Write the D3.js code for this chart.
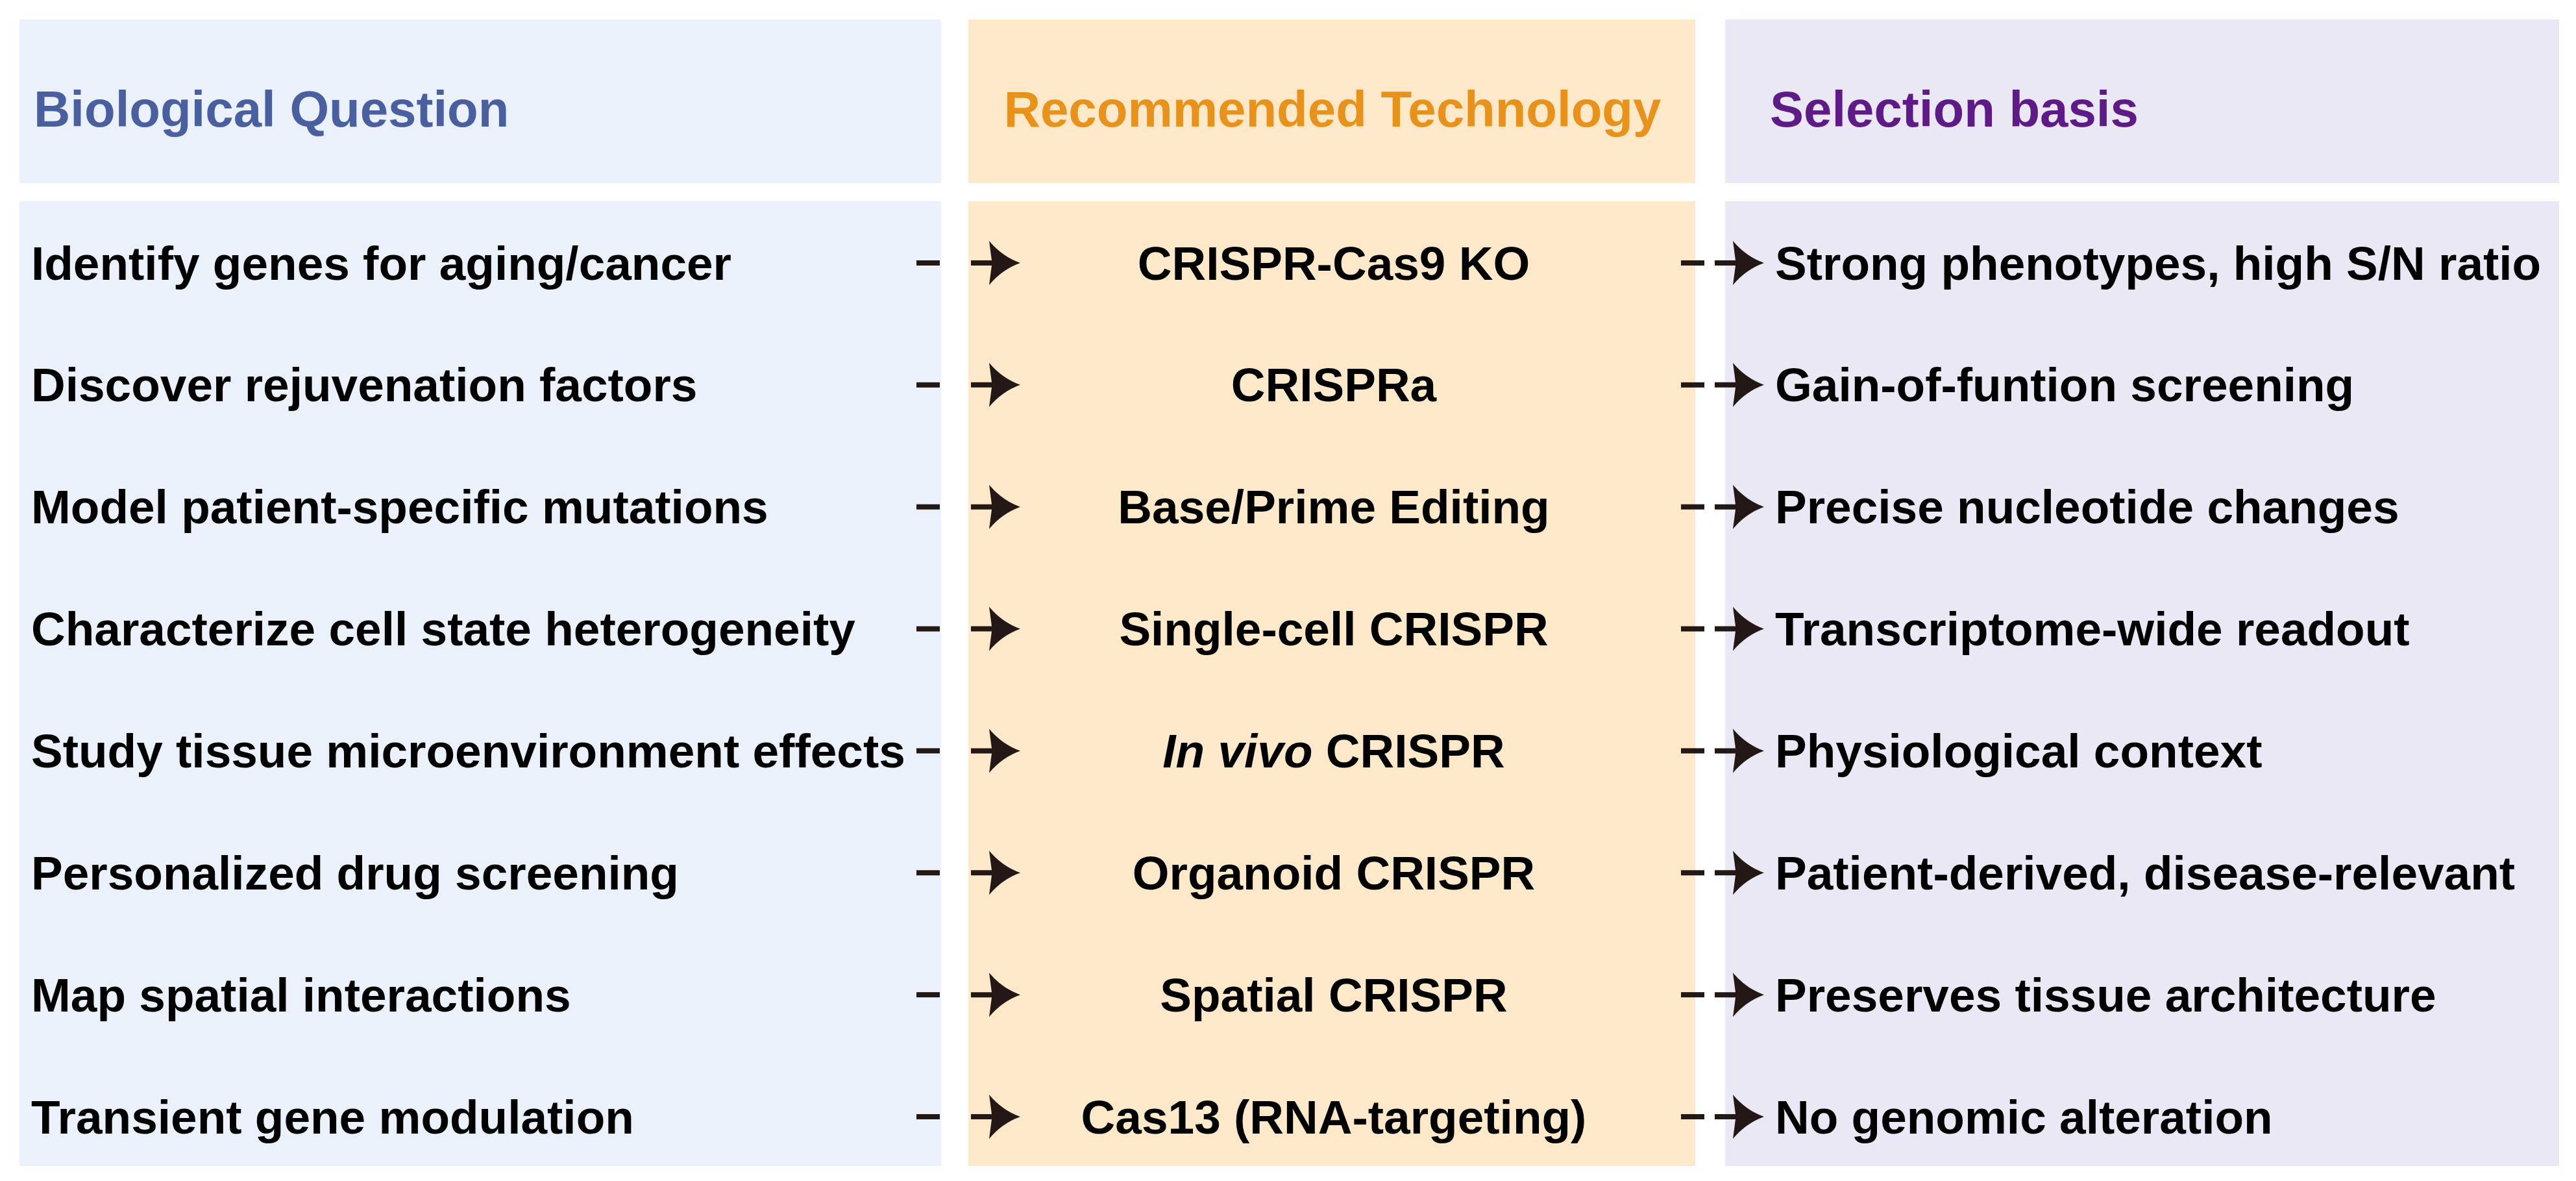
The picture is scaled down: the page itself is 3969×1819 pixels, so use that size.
<!DOCTYPE html>
<html>
<head>
<script src="https://d3js.org/d3.v7.min.js"></script>
<style>body{margin:0;background:#fff}</style>
</head>
<body>
<div id="chart"></div>
<script>
const headers = ["Biological Question", "Recommended Technology", "Selection basis"];
const questions = [
  "Identify genes for aging/cancer",
  "Discover rejuvenation factors",
  "Model patient-specific mutations",
  "Characterize cell state heterogeneity",
  "Study tissue microenvironment effects",
  "Personalized drug screening",
  "Map spatial interactions",
  "Transient gene modulation"
];
const technologies = [
  "CRISPR-Cas9 KO", "CRISPRa", "Base/Prime Editing", "Single-cell CRISPR",
  "In vivo CRISPR", "Organoid CRISPR", "Spatial CRISPR", "Cas13 (RNA-targeting)"
];
const bases = [
  "Strong phenotypes, high S/N ratio", "Gain-of-funtion screening",
  "Precise nucleotide changes", "Transcriptome-wide readout",
  "Physiological context", "Patient-derived, disease-relevant",
  "Preserves tissue architecture", "No genomic alteration"
];

const W = 3969, H = 1819;
const font = "'Liberation Sans Narrow','Arial Narrow','Liberation Sans',Arial,sans-serif";
const svg = d3.select("#chart").append("svg").attr("width", W).attr("height", H);

const cols = [
  {x0: 30, x1: 1450, bg: "#eaf1fa", hc: "#4a5fa0"},
  {x0: 1492, x1: 2612, bg: "#fde9ca", hc: "#e8921c"},
  {x0: 2658, x1: 3943, bg: "#ebe8f5", hc: "#5e1a86"}
];
const y = d3.scalePoint().domain(d3.range(questions.length)).range([405, 1720]);

cols.forEach(c => {
  svg.append("rect").attr("x", c.x0).attr("y", 30).attr("width", c.x1 - c.x0).attr("height", 252).attr("fill", c.bg);
  svg.append("rect").attr("x", c.x0).attr("y", 310).attr("width", c.x1 - c.x0).attr("height", 1486).attr("fill", c.bg);
});

const hx = [52, 2053, 2727];
headers.forEach((h, i) => {
  svg.append("text").attr("x", hx[i]).attr("y", 168).attr("dy", "0.35em")
    .attr("text-anchor", i === 1 ? "middle" : "start")
    .attr("font-family", font).attr("font-weight", "bold").attr("font-size", 78)
    .attr("fill", cols[i].hc).text(h);
});

function rowText(arr, x, anchor) {
  svg.selectAll(null).data(arr).join("text")
    .attr("x", x).attr("y", (d, i) => y(i)).attr("dy", "0.35em")
    .attr("text-anchor", anchor)
    .attr("font-family", font).attr("font-weight", "bold").attr("font-size", 73)
    .attr("fill", "#000")
    .each(function(d) {
      const t = d3.select(this);
      if (d.startsWith("In vivo")) {
        t.append("tspan").attr("font-style", "italic").text("In vivo");
        t.append("tspan").text(" CRISPR");
      } else t.text(d);
    });
}
rowText(questions, 48, "start");
rowText(technologies, 2055, "middle");
rowText(bases, 2735, "start");

// connector arrows: dash + arrowhead
function arrows(xDash, xHead) {
  const g = svg.append("g").attr("fill", "#231815");
  g.selectAll("rect").data(questions).join("rect")
    .attr("x", xDash).attr("y", (d, i) => y(i) - 4).attr("width", 36).attr("height", 8);
  g.selectAll("path").data(questions).join("path")
    .attr("transform", (d, i) => `translate(${xHead},${y(i)})`)
    .attr("d", "M0,-4 L32,-4 L28,-34 Q48,-10 76,0 Q48,10 28,34 L32,4 L0,4 Z");
}
arrows(1412, 1496);
arrows(2590, 2642);
</script>
</body>
</html>
